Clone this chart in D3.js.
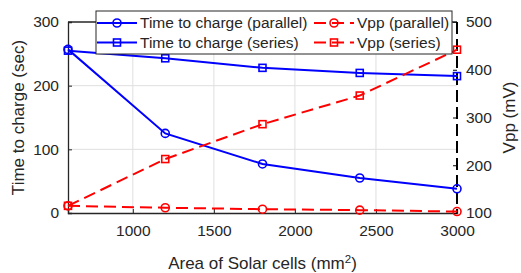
<!DOCTYPE html>
<html>
<head>
<meta charset="utf-8">
<script src="https://cdn.jsdelivr.net/npm/d3@7"></script>
<style>
  body { margin: 0; background: #fff; }
  text { font-family: "Liberation Sans", Arial, sans-serif; fill: #262626; }
</style>
</head>
<body>
<div id="chart"></div>
<script>
var AREAS = [600, 1200, 1800, 2400, 3000];
var TIME_PARALLEL = [257, 125, 77, 55, 38];
var TIME_SERIES = [255, 243, 228, 220, 215];
var VPP_PARALLEL = [115, 111, 108, 106, 103];
var VPP_SERIES = [115, 213, 286, 346, 442];
var X_TICKS = [1000, 1500, 2000, 2500, 3000];
var LEFT_TICKS = [0, 100, 200, 300];
var RIGHT_TICKS = [100, 200, 300, 400, 500];

var WIDTH = 521;
var HEIGHT = 273;
var margin = { top: 22, right: 64, bottom: 60, left: 68 };
var innerW = 457 - margin.left;
var innerH = 213 - margin.top;

var svg = d3.select('#chart').append('svg')
  .attr('width', WIDTH)
  .attr('height', HEIGHT);

var g = svg.append('g')
  .attr('transform', 'translate(' + margin.left + ',' + margin.top + ')');

var x = d3.scaleLinear().domain([600, 3000]).range([0, innerW]);
var yL = d3.scaleLinear().domain([0, 300]).range([innerH, 0]);
var yR = d3.scaleLinear().domain([100, 500]).range([innerH, 0]);

// grid
g.selectAll('.vgrid')
  .data(X_TICKS.filter(function (d) { return d < 3000; }))
  .enter().append('line')
    .attr('x1', x).attr('x2', x)
    .attr('y1', 0).attr('y2', innerH)
    .attr('stroke', '#dfdfdf').attr('stroke-width', 1);
g.selectAll('.hgrid')
  .data([100, 200])
  .enter().append('line')
    .attr('x1', 0).attr('x2', innerW)
    .attr('y1', yL).attr('y2', yL)
    .attr('stroke', '#dfdfdf').attr('stroke-width', 1);

// axes
var fmt = d3.format('d');
var xAxis = g.append('g')
  .attr('transform', 'translate(0,' + innerH + ')')
  .call(d3.axisBottom(x).tickValues(X_TICKS).tickFormat(fmt).tickSize(-4).tickPadding(12));
var leftAxis = g.append('g')
  .call(d3.axisLeft(yL).tickValues(LEFT_TICKS).tickFormat(fmt).tickSize(-4).tickPadding(9));
var rightAxis = g.append('g')
  .attr('transform', 'translate(' + innerW + ',0)')
  .call(d3.axisRight(yR).tickValues(RIGHT_TICKS).tickFormat(fmt).tickSize(-4).tickPadding(9));

[xAxis, leftAxis, rightAxis].forEach(function (a) {
  a.selectAll('text').style('font-size', '15.5px').attr('fill', '#262626');
  a.selectAll('line').attr('stroke', '#262626');
  a.select('.domain').attr('stroke', '#262626').attr('stroke-width', 1.3);
});
rightAxis.select('.domain').remove();
rightAxis.selectAll('line').attr('stroke', '#000');

// top box edge
g.append('line')
  .attr('x1', 0).attr('x2', innerW).attr('y1', 0).attr('y2', 0)
  .attr('stroke', '#262626').attr('stroke-width', 1.3);
// right spine dashed
g.append('line')
  .attr('x1', innerW).attr('x2', innerW).attr('y1', 0).attr('y2', innerH)
  .attr('stroke', '#000').attr('stroke-width', 2)
  .attr('stroke-dasharray', '12,5');

// series
var seriesList = [
  { name: 'Time to charge (parallel)', values: TIME_PARALLEL, y: yL, color: '#0000ff', dash: null, marker: 'circle' },
  { name: 'Time to charge (series)', values: TIME_SERIES, y: yL, color: '#0000ff', dash: null, marker: 'square' },
  { name: 'Vpp (parallel)', values: VPP_PARALLEL, y: yR, color: '#ff0000', dash: '12,6', marker: 'circle' },
  { name: 'Vpp (series)', values: VPP_SERIES, y: yR, color: '#ff0000', dash: '12,6', marker: 'square' }
];

function drawMarker (sel, s, cx, cy) {
  if (s.marker === 'circle') {
    sel.append('circle')
      .attr('cx', cx).attr('cy', cy).attr('r', 4)
      .attr('fill', 'none').attr('stroke', s.color).attr('stroke-width', 1.6);
  } else {
    sel.append('rect')
      .attr('x', cx - 3.5).attr('y', cy - 3.5).attr('width', 7).attr('height', 7)
      .attr('fill', 'none').attr('stroke', s.color).attr('stroke-width', 1.6);
  }
}

var plot = g.append('g');
seriesList.forEach(function (s) {
  var line = d3.line()
    .x(function (d, i) { return x(AREAS[i]); })
    .y(function (d) { return s.y(d); });
  plot.append('path')
    .datum(s.values)
    .attr('d', line)
    .attr('fill', 'none')
    .attr('stroke', s.color)
    .attr('stroke-width', 2)
    .attr('stroke-dasharray', s.dash);
  s.values.forEach(function (v, i) {
    drawMarker(plot, s, x(AREAS[i]), s.y(v));
  });
});

// legend
var legend = svg.append('g').attr('transform', 'translate(96,11)');
legend.append('rect')
  .attr('width', 356).attr('height', 43)
  .attr('fill', '#fff').attr('stroke', '#262626').attr('stroke-width', 1);
var cols = [1, 218];
seriesList.forEach(function (s, i) {
  var col = i < 2 ? 0 : 1;
  var row = i % 2;
  var lx = cols[col];
  var ly = 12 + row * 19.5;
  var item = legend.append('g');
  item.append('line')
    .attr('x1', lx).attr('x2', lx + 40).attr('y1', ly).attr('y2', ly)
    .attr('stroke', s.color).attr('stroke-width', 2)
    .attr('stroke-dasharray', s.dash);
  drawMarker(item, s, lx + 20, ly);
  item.append('text')
    .attr('x', lx + 43).attr('y', ly).attr('dy', '0.35em')
    .style('font-size', '15.5px')
    .text(s.name);
});

// axis labels
svg.append('text')
  .attr('transform', 'translate(24,' + (margin.top + innerH / 2) + ') rotate(-90)')
  .attr('text-anchor', 'middle')
  .style('font-size', '17px')
  .text('Time to charge (sec)');
svg.append('text')
  .attr('transform', 'translate(515,' + (margin.top + innerH / 2) + ') rotate(-90)')
  .attr('text-anchor', 'middle')
  .style('font-size', '17px')
  .text('Vpp (mV)');
var xl = svg.append('text')
  .attr('x', margin.left + innerW / 2).attr('y', 269)
  .attr('text-anchor', 'middle')
  .style('font-size', '17px');
xl.append('tspan').text('Area of Solar cells (mm');
xl.append('tspan').attr('dy', -6).style('font-size', '11.5px').text('2');
xl.append('tspan').attr('dy', 6).text(')');
</script>
</body>
</html>
